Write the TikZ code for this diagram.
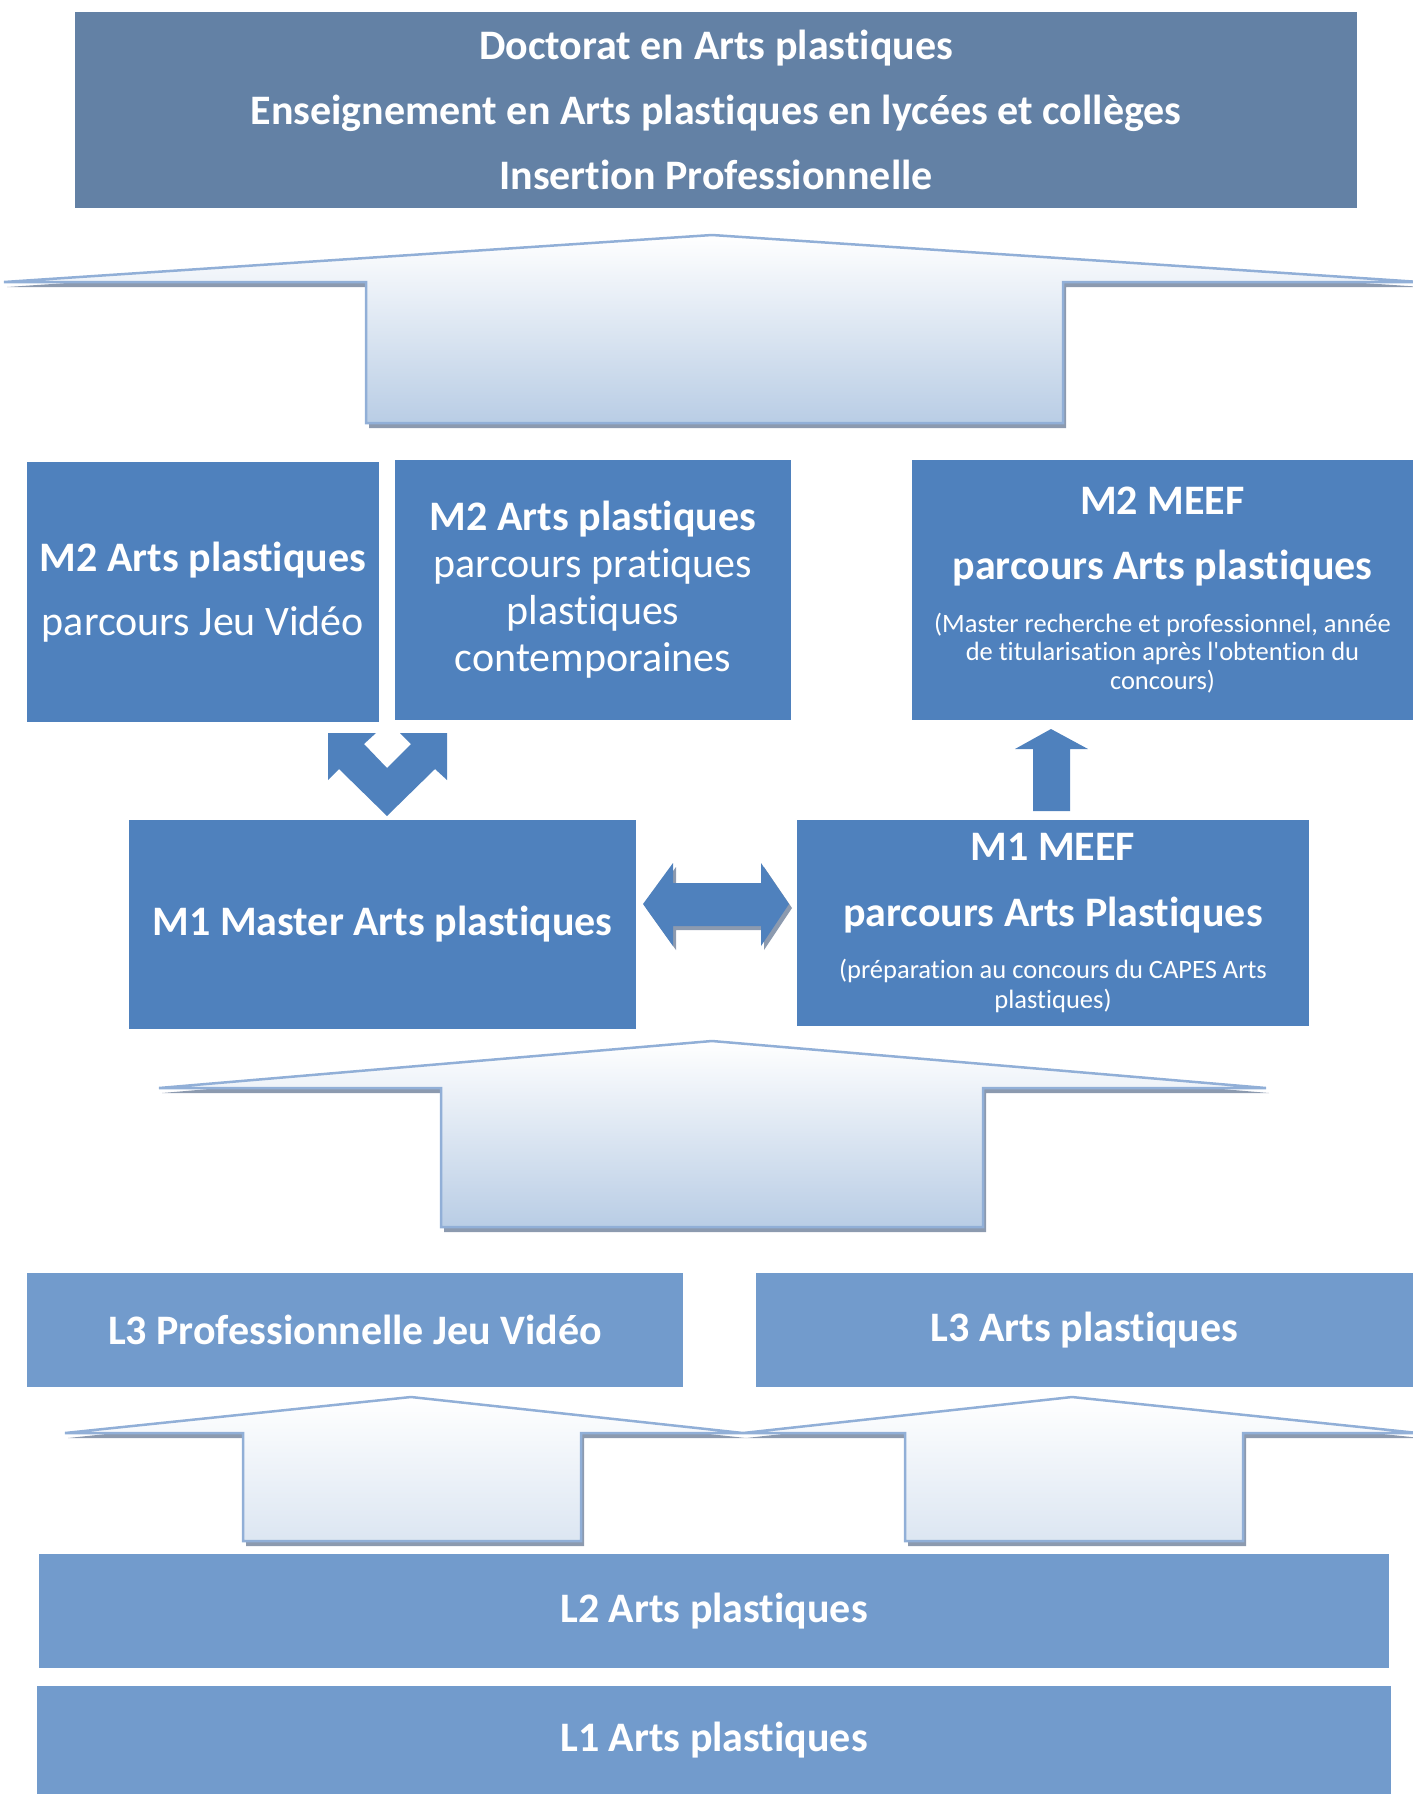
\documentclass[tikz,border=0pt]{standalone}
\usepackage{fontspec}
\setmainfont{Carlito}[Ligatures={NoCommon,NoContextual,NoRequired,NoRare}]

\definecolor{bleu}{RGB}{79,129,189}
\definecolor{bleudoc}{RGB}{99,129,165}
\definecolor{bleuclair}{RGB}{114,155,204}
\definecolor{trait}{RGB}{145,175,215}
\definecolor{ombre}{RGB}{140,154,175}
\definecolor{fondfleche}{RGB}{185,205,229}
\definecolor{fondpetite}{RGB}{220,230,242}

\newcommand{\petit}{\mdseries\fontsize{26.5}{29}\selectfont}

\begin{document}
\begin{tikzpicture}[x=1pt, y=-1pt,
	box/.style={fill=#1, text=white, inner sep=0pt, align=center, font=\fontsize{42}{47}\selectfont\bfseries},
	grande/.style={preaction={fill=ombre, transform canvas={shift={(3,5)}}}, top color=white, bottom color=#1, draw=trait, line width=2.5pt, line join=miter},
	pleine/.style={fill=bleu}
	]
	\useasboundingbox (0,0) rectangle (1413,1794);

	\node[box=bleudoc, minimum width=1282, minimum height=196] (50) at (716,110) {Doctorat en Arts plastiques\\[18pt] Enseignement en Arts plastiques en lycées et collèges\\[18pt] Insertion Professionnelle};

	\path[grande=fondfleche] (4,282) -- (712,235) -- (1420,282) -- (1063,282) -- (1063,423) -- (366,423) -- (366,282) -- cycle;

	\node[box=bleu, minimum width=352, minimum height=260] (40) at (203,592) {M2 Arts plastiques\\[17pt] \mdseries parcours Jeu Vidéo};
	\node[box=bleu, minimum width=396, minimum height=260] (41) at (593,590) {M2 Arts plastiques\\ \mdseries parcours pratiques\\ \mdseries plastiques\\ \mdseries contemporaines};
	\node[box=bleu, minimum width=501, minimum height=260] (42) at (1162.5,590) {M2 MEEF\\[18pt] parcours Arts plastiques\\[6pt] \petit (Master recherche et professionnel, année\\[-18.5pt] \petit de titularisation après l\textquotesingle obtention du\\[-18.5pt] \petit concours)};

	% fleche vers M1
	\fill[pleine] (328,733) -- (376,733) -- (364,744) -- (387,768) -- (411,744) -- (400,733) -- (447,733) -- (447,780) -- (435,769) -- (387,816) -- (339,769) -- (328,780) -- cycle;
	% fleche vers M2 MEEF
	\fill[pleine] (1051,729) -- (1088,749) -- (1070,749) -- (1070,811) -- (1033,811) -- (1033,749) -- (1015,749) -- cycle;

	\node[box=bleu, minimum width=507, minimum height=209] (30) at (382.5,924.5) {M1 Master Arts plastiques};
	\node[box=bleu, minimum width=512, minimum height=206] (31) at (1053,923) {M1 MEEF\\[19pt] parcours Arts Plastiques\\[5pt] \petit (préparation au concours du CAPES Arts\\[-17pt] \petit plastiques)};

	\path[pleine, preaction={fill=ombre, transform canvas={shift={(3,4)}}}] (643,904) -- (673,863) -- (673,883) -- (761,883) -- (761,863) -- (789,904) -- (761,946) -- (761,926) -- (673,926) -- (673,946) -- cycle;

	\path[grande=fondfleche] (159,1088) -- (712,1041) -- (1266,1088) -- (983,1088) -- (983,1227) -- (441,1227) -- (441,1088) -- cycle;

	\node[box=bleuclair, minimum width=656, minimum height=114] (20) at (355,1330) {L3 Professionnelle Jeu Vidéo};
	\node[box=bleuclair, minimum width=657, minimum height=114] (21) at (1084.5,1330) {L3 Arts plastiques};

	\path[grande=fondpetite] (65,1433) -- (411,1397) -- (743,1433) -- (581,1433) -- (581,1541) -- (243,1541) -- (243,1433) -- cycle;
	\path[grande=fondpetite] (743,1433) -- (1072,1397) -- (1418,1433) -- (1243,1433) -- (1243,1541) -- (905,1541) -- (905,1433) -- cycle;

	\node[box=bleuclair, minimum width=1350, minimum height=114] (10) at (714,1611) {L2 Arts plastiques};
	\node[box=bleuclair, minimum width=1354, minimum height=108] (0) at (714,1740) {L1 Arts plastiques};
\end{tikzpicture}
\end{document}
